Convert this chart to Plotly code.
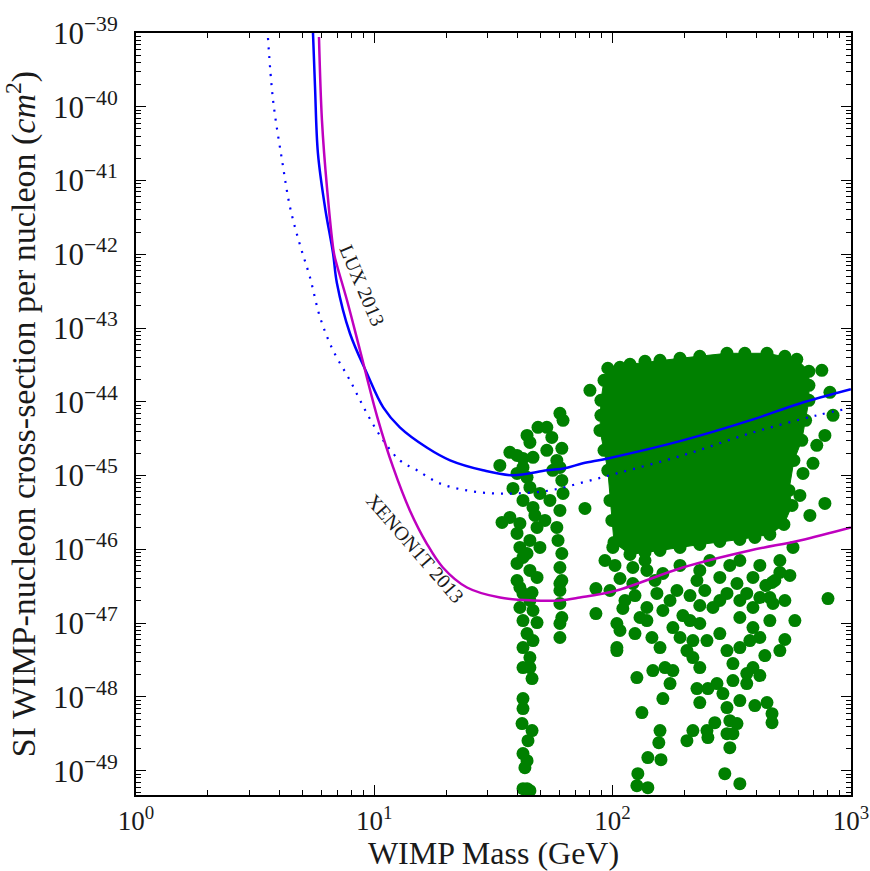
import numpy as np
import plotly.graph_objects as go

# ---------------- exclusion curves (WIMP mass in GeV, cross-section in cm^2) ----------------
lux_mass = [5.53, 5.64, 5.80, 6.21, 6.71, 6.97, 7.90, 9.31, 10.9, 12.8, 16.6, 20.8, 28.6, 38.2,
            53.0, 63.1, 75.1, 95.5, 197, 377, 611, 1000]
lux_sigma = [1.0e-39, 1.85e-40, 2.35e-41, 4.35e-42, 1.04e-42, 4.06e-43, 8.5e-44, 2.44e-44, 8.4e-45,
             4.5e-45, 2.4e-45, 1.61e-45, 1.18e-45, 1.01e-45, 1.18e-45, 1.26e-45, 1.47e-45, 1.71e-45,
             3.0e-45, 5.6e-45, 9.5e-45, 1.48e-44]

lux_proj_mass = [3.58, 3.76, 4.10, 4.43, 4.88, 5.37, 5.92, 6.71, 7.90, 9.31, 10.9, 12.8, 15.1, 18.9,
                 24.5, 31.5, 39.7, 54.6, 75.1, 104, 197, 377, 720, 991]
lux_proj_sigma = [8.55e-40, 1.23e-40, 1.89e-41, 4.36e-42, 1.33e-42, 4.89e-43, 1.40e-43, 5.0e-44,
                  1.96e-44, 6.98e-45, 3.0e-45, 1.61e-45, 1.18e-45, 7.8e-46, 6.3e-46, 5.74e-46,
                  5.74e-46, 6.3e-46, 8.1e-46, 1.07e-45, 1.88e-45, 3.74e-45, 6.56e-45, 8.2e-45]

xenon_mass = [5.86, 6.03, 6.33, 6.77, 6.97, 7.68, 8.71, 10.3, 12.0, 14.1, 16.6, 19.4, 24.5, 33.7,
              46.3, 60.1, 72.9, 104, 197, 377, 611, 1000]
xenon_sigma = [8.83e-40, 6.6e-41, 8.1e-42, 1.04e-42, 7.1e-43, 2.38e-43, 5.0e-44, 6.17e-45, 1.29e-45,
               3.37e-46, 1.2e-46, 5.68e-47, 3.04e-47, 2.22e-47, 2.03e-47, 2.03e-47, 2.22e-47,
               2.77e-47, 5.68e-47, 9.66e-47, 1.32e-46, 1.98e-46]

# ---------------- model points (log10 mass / GeV, log10 sigma / cm^2) ----------------
# outline of the densely populated region
dense_log_mass = [1.980, 2.073, 2.283, 2.480, 2.648, 2.773, 2.824, 2.824, 2.794, 2.761, 2.740, 2.753,
                  2.719, 2.660, 2.534, 2.366, 2.199, 2.073, 2.006, 1.989, 1.980, 1.964, 1.947, 1.951,
                  1.964]
dense_log_sigma = [-43.545, -43.491, -43.410, -43.342, -43.342, -43.423, -43.586, -43.980, -44.522,
                   -44.794, -45.201, -45.404, -45.662, -45.798, -45.866, -45.934, -46.015, -46.069,
                   -45.906, -45.337, -44.929, -44.658, -44.387, -43.980, -43.708]

# individual points
pts_log_mass = [
    # strip near 40-48 GeV
    1.569, 1.599, 1.527, 1.624, 1.666, 1.624, 1.599, 1.653, 1.695, 1.624, 1.666, 1.569, 1.536, 1.611,
    1.683, 1.599, 1.653, 1.695, 1.611, 1.624, 1.599, 1.653, 1.683, 1.599, 1.624, 1.662, 1.611, 1.666,
    1.624, 1.683, 1.641, 1.666, 1.624, 1.653, 1.624, 1.653, 1.662, 1.624, 1.624, 1.620, 1.662, 1.645,
    1.624, 1.641, 1.632, 1.641, 1.624, 1.653, 1.641, 1.582, 1.674, 1.641, 1.611, 1.653,
    # strip near 55-60 GeV
    1.779, 1.792, 1.724, 1.687, 1.745, 1.641, 1.653, 1.787, 1.766, 1.779, 1.787, 1.792, 1.779, 1.766,
    1.771, 1.787, 1.779, 1.787, 1.779, 1.779, 1.787, 1.779, 1.779, 1.779, 1.724, 1.749, 1.737, 1.716,
    # isolated
    1.884, 1.930, 1.930,
    # edge of dense region
    1.980, 2.073, 2.283, 2.480, 2.648, 2.773, 2.824, 2.824, 2.794, 2.761, 2.740, 2.753, 2.719, 2.660,
    2.534, 2.366, 2.199, 2.073, 2.006, 1.989, 1.980, 1.964, 1.947, 1.951, 1.964,
    2.031, 2.136, 2.199, 2.366, 2.555, 2.723, 2.824, 2.810, 2.597, 2.450, 2.283, 2.136, 1.997, 1.951,
    1.905,
    # right-hand outliers
    2.878, 2.912, 2.925, 2.891, 2.857, 2.841, 2.786, 2.828, 2.891, 2.799, 2.904,
    # below the dense region
    2.001, 2.085, 2.144, 2.211, 2.354, 2.450, 2.534, 2.589, 2.702, 2.757, 2.031, 2.085, 2.094, 2.043,
    2.018, 2.031, 2.018, 2.018, 2.094, 2.115, 2.144, 2.165, 2.199, 2.144, 2.186, 2.211, 2.241, 2.253,
    2.283, 2.270, 2.102, 2.169, 2.220, 2.253, 2.241, 2.211, 2.123, 2.199, 2.194, 2.148, 2.203, 2.106,
    2.102, 2.148, 2.312, 2.337, 2.366, 2.354, 2.366, 2.312, 2.337, 2.396, 2.400, 2.429, 2.400, 2.438,
    2.463, 2.480, 2.505, 2.492, 2.522, 2.480, 2.505, 2.492, 2.471, 2.534, 2.337, 2.366, 2.421, 2.396,
    2.450, 2.480, 2.505, 2.534, 2.563, 2.589, 2.618, 2.563, 2.589, 2.618, 2.534, 2.589, 2.563, 2.618,
    2.480, 2.522, 2.648, 2.669, 2.669, 2.723, 2.660, 2.673, 2.702, 2.669, 2.325, 2.387, 2.534, 2.643,
    2.366, 2.295,
    1.968, 2.010, 2.136, 2.178, 2.283, 2.366, 2.408, 2.492, 2.618, 2.681, 2.744, 2.723, 2.765, 2.660,
    2.702, 2.639, 2.450, 2.325, 2.052, 1.989, 2.576, 2.534, 2.597,
]
pts_log_sigma = [
    -44.685, -44.726, -44.862, -44.767, -44.753, -44.889, -44.970, -45.160, -45.242, -45.337, -45.432,
    -45.567, -45.635, -45.649, -45.703, -45.784, -45.879, -45.974, -45.974, -46.110, -46.191, -46.286,
    -46.381, -46.422, -46.598, -46.585, -46.788, -46.829, -46.965, -46.992, -47.141, -47.236, -47.331,
    -47.467, -47.603, -47.603, -47.752, -48.023, -48.158, -48.362, -48.457, -48.593, -48.769, -48.864,
    -48.959, -49.244, -49.244, -49.271, -45.024, -45.174, -45.540, -46.056, -46.517, -46.693,
    -44.156, -44.251, -44.346, -44.346, -44.482, -44.455, -44.550, -44.631, -44.794, -44.889, -45.065,
    -45.242, -45.472, -45.703, -45.879, -46.056, -46.246, -46.422, -46.558, -46.734, -46.924, -47.195,
    -46.463, -47.005, -44.658, -44.929, -45.337, -45.608,
    -45.445, -46.531, -46.870,
    -43.545, -43.491, -43.410, -43.342, -43.342, -43.423, -43.586, -43.980, -44.522, -44.794, -45.201,
    -45.404, -45.662, -45.798, -45.866, -45.934, -46.015, -46.069, -45.906, -45.337, -44.929, -44.658,
    -44.387, -43.980, -43.708,
    -43.532, -43.450, -43.437, -43.383, -43.342, -43.383, -43.776, -44.251, -45.838, -45.893, -45.974,
    -46.042, -45.608, -44.183, -43.844,
    -43.573, -43.871, -44.183, -44.455, -44.590, -44.834, -45.269, -45.540, -45.377, -44.970, -46.667,
    -45.974, -46.246, -46.286, -46.327, -46.422, -46.381, -46.151, -46.381, -46.151, -45.974, -46.395,
    -46.463, -46.626, -46.802, -47.005, -47.100, -47.331, -47.372, -47.141, -46.924, -46.965, -47.195,
    -47.331, -46.788, -46.598, -46.829, -46.693, -47.060, -47.195, -46.558, -47.738, -47.643, -47.603,
    -47.643, -47.820, -48.023, -48.213, -48.457, -48.620, -48.823, -48.851, -49.041, -49.203, -49.231,
    -47.372, -47.467, -47.603, -47.887, -48.077, -48.593, -48.457, -48.457, -48.552, -48.349, -47.887,
    -47.820, -47.955, -48.145, -47.779, -48.322, -48.362, -48.498, -48.498, -48.688, -49.041, -49.176,
    -47.236, -47.005, -46.788, -47.236, -47.141, -47.372, -47.548, -47.331, -47.684, -47.603, -47.711,
    -47.820, -47.060, -47.195, -46.924, -46.788, -46.598, -46.653, -46.598, -46.463, -48.077, -48.227,
    -48.349, -47.222, -46.653, -46.734, -46.313, -46.449, -46.626, -46.558, -46.693, -46.490, -46.761,
    -46.897,
    -46.151, -46.218, -46.151, -46.422, -46.218, -46.286, -46.151, -46.218, -46.218, -46.422, -46.354,
    -46.693, -46.965, -46.965, -47.372, -47.440, -46.693, -46.965, -46.693, -46.558, -47.236, -48.050,
    -48.118,
]

# tick values and labels
x_tick_exp = [0, 1, 2, 3]
y_tick_exp = [-39, -40, -41, -42, -43, -44, -45, -46, -47, -48, -49]

GREEN = "#008000"
BLUE = "#0000ff"
MAGENTA = "#bf00bf"
FONT = "Liberation Serif"
TXT = "#1a1a1a"


def power_label(e):
    s = str(e).replace("-", "\u2212")
    return "10<sup>" + s + "</sup>"


fig = go.Figure()

fig.add_trace(go.Scatter(
    x=10 ** np.array(dense_log_mass), y=10 ** np.array(dense_log_sigma),
    mode="lines", fill="toself", fillcolor=GREEN,
    line=dict(color=GREEN, width=1), hoverinfo="skip", showlegend=False))

fig.add_trace(go.Scatter(
    x=10 ** np.array(pts_log_mass), y=10 ** np.array(pts_log_sigma),
    mode="markers", marker=dict(color=GREEN, size=13, line=dict(width=0)),
    showlegend=False, cliponaxis=True))

fig.add_trace(go.Scatter(x=lux_proj_mass, y=lux_proj_sigma, mode="lines",
                         line=dict(color=BLUE, width=2.2, dash="2px,7px", shape="spline"),
                         showlegend=False))
fig.add_trace(go.Scatter(x=lux_mass, y=lux_sigma, mode="lines",
                         line=dict(color=BLUE, width=2.5, shape="spline"), showlegend=False))
fig.add_trace(go.Scatter(x=xenon_mass, y=xenon_sigma, mode="lines",
                         line=dict(color=MAGENTA, width=2.5, shape="spline"), showlegend=False))

fig.add_annotation(x=0.948, y=-42.42, xref="x", yref="y", text="LUX 2013", showarrow=False,
                   textangle=67, font=dict(family=FONT, size=20, color=TXT))
fig.add_annotation(x=1.171, y=-45.98, xref="x", yref="y", text="XENON1T 2013", showarrow=False,
                   textangle=49, font=dict(family=FONT, size=20, color=TXT))

axis_common = dict(
    type="log", showgrid=False, zeroline=False, automargin=False,
    showline=True, linecolor="black", linewidth=2, mirror="allticks",
    ticks="inside", ticklen=10, tickwidth=1.3, tickcolor="black",
    ticklabeloverflow="allow",
    minor=dict(ticks="inside", ticklen=5, tickwidth=1, tickcolor="black", dtick="D1"),
)

fig.update_xaxes(**axis_common, range=[0, 3.0005],
                 tickmode="array", tickvals=[10 ** e for e in x_tick_exp],
                 ticktext=[power_label(e) for e in x_tick_exp],
                 tickfont=dict(family=FONT, size=27, color=TXT),
                 title=dict(text="WIMP Mass (GeV)", font=dict(family=FONT, size=32, color=TXT),
                            standoff=8),
                 ticklabelstandoff=1)
fig.update_yaxes(**axis_common, range=[-49.33, -39],
                 tickmode="array", tickvals=[10.0 ** e for e in y_tick_exp],
                 ticktext=[power_label(e) for e in y_tick_exp],
                 tickfont=dict(family=FONT, size=31, color=TXT),
                 title=dict(text="SI WIMP-nucleon cross-section per nucleon (<i>cm</i><sup>2</sup>)",
                            font=dict(family=FONT, size=34, color=TXT), standoff=8),
                 ticklabelstandoff=10)

fig.update_layout(
    width=870, height=871,
    margin=dict(l=136, r=19, t=33, b=76),
    paper_bgcolor="white", plot_bgcolor="white",
    showlegend=False,
)

fig.write_html(
    "out.html",
    config={"displayModeBar": False},
    post_script=("document.body.style.margin='0';"
                 "document.documentElement.style.overflow='hidden';"
                 "document.body.style.overflow='hidden';"),
)
